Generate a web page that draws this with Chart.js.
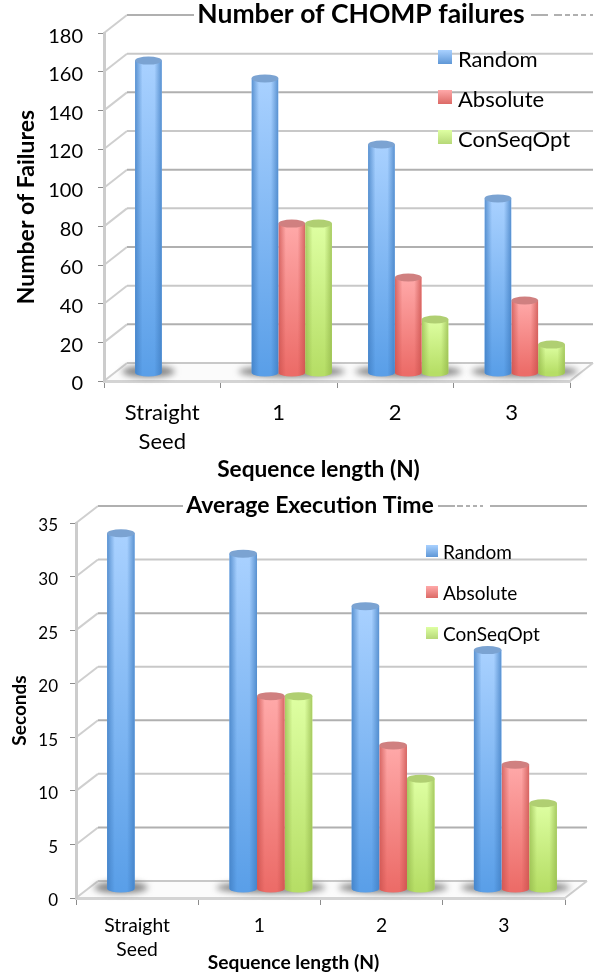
<!DOCTYPE html>
<html>
<head>
<meta charset="utf-8">
<title>CHOMP failures and execution time</title>
<script src="https://cdn.jsdelivr.net/npm/chart.js@4"></script>
<style>
  html, body { margin: 0; padding: 0; background: #fff; }
  canvas { position: absolute; left: 0; }
</style>
</head>
<body>
<canvas id="failChart" width="600" height="487" style="top:0;width:600px;height:487px"></canvas>
<canvas id="timeChart" width="600" height="488" style="top:487px;width:600px;height:488px"></canvas>
<script>
const categories = [['Straight', 'Seed'], '1', '2', '3'];
const seriesNames = ['Random', 'Absolute', 'ConSeqOpt'];

const randomFailures = [161.6, 152.4, 118.2, 90.3];
const absoluteFailures = [null, 77.3, 49.4, 37.5];
const conSeqOptFailures = [null, 77.3, 27.7, 14.7];

const randomSeconds = [33.2, 31.3, 26.4, 22.3];
const absoluteSeconds = [null, 18.0, 13.4, 11.6];
const conSeqOptSeconds = [null, 18.0, 10.3, 8.0];

const FONT = 'Lato, "Open Sans", sans-serif';

// top / bottom colour of the centre of a bar, its edges, and the cap
const shades = [
    { top: '#a9d1ff', bottom: '#5a9fe8', edge: '#3f7cc0', cap: '#7ba3d2', swatchTop: '#a9d1ff', swatchBottom: '#5f97d6' },
    { top: '#ffa9a9', bottom: '#ec6c68', edge: '#c9504c', cap: '#d08080', swatchTop: '#ffa9a9', swatchBottom: '#dc6a66' },
    { top: '#deffa2', bottom: '#b6de66', edge: '#94b84c', cap: '#b0cf72', swatchTop: '#deffa2', swatchBottom: '#b6d878' }
];

function hexA(hex, a) {
    const n = parseInt(hex.slice(1), 16);
    return 'rgba(' + (n >> 16) + ',' + ((n >> 8) & 255) + ',' + (n & 255) + ',' + a + ')';
}

// walls, floor and grid lines behind the bars, legend on top of them
const depthPlugin = {
    id: 'depth',
    beforeDraw(chart, args, o) {
        const ctx = chart.ctx;
        const a = chart.chartArea;
        const y = chart.scales.y;
        ctx.save();
        ctx.fillStyle = '#fff';
        ctx.fillRect(0, 0, chart.width, chart.height);

        // floor
        ctx.beginPath();
        ctx.moveTo(a.left, a.bottom);
        ctx.lineTo(a.left + o.dx, a.bottom - o.dy);
        ctx.lineTo(a.right + o.dx, a.bottom - o.dy);
        ctx.lineTo(a.right, a.bottom);
        ctx.closePath();
        ctx.fillStyle = '#fbfbfb';
        ctx.fill();

        ctx.lineWidth = 2;
        y.ticks.forEach((t, i) => {
            const py = y.getPixelForValue(t.value);
            ctx.beginPath();
            ctx.moveTo(a.left, py);
            ctx.lineTo(a.left + o.dx, py - o.dy);
            ctx.strokeStyle = '#cfcfcf';
            ctx.stroke();
            ctx.beginPath();
            ctx.moveTo(a.left + o.dx, py - o.dy);
            ctx.lineTo(a.right + o.dx, py - o.dy);
            ctx.strokeStyle = i % 2 ? '#b0b0b0' : '#c8c8c8';
            ctx.stroke();
        });

        // right edge of the floor
        ctx.strokeStyle = '#cfcfcf';
        ctx.beginPath();
        ctx.moveTo(a.right, a.bottom);
        ctx.lineTo(a.right + o.dx, a.bottom - o.dy);
        ctx.stroke();

        // gaps in the top line, next to the title
        const topY = a.top - o.dy;
        ctx.fillStyle = '#fff';
        ctx.fillRect(o.titleLeft, topY - 3, o.titleRight - o.titleLeft, 6);
        o.gaps.forEach(g => ctx.fillRect(g[0], topY - 3, g[1], 6));
        ctx.restore();
    },
    beforeDatasetsDraw(chart, args, o) {
        // soft shadow on the floor round each group of bars
        const ctx = chart.ctx;
        const metas = chart.getSortedVisibleDatasetMetas();
        ctx.save();
        ctx.translate(o.shiftX, -o.shiftY);
        ctx.filter = 'blur(3px)';
        ctx.fillStyle = 'rgba(105,105,105,0.8)';
        chart.data.labels.forEach((label, i) => {
            const bars = metas.filter(m => m._dataset.data[i] !== null).map(m => m.data[i]);
            const left = Math.min(...bars.map(b => b.x - b.width / 2));
            const right = Math.max(...bars.map(b => b.x + b.width / 2));
            ctx.beginPath();
            ctx.ellipse((left + right) / 2, bars[0].base - 1, (right - left) / 2 + 13, 6, 0, 0, Math.PI * 2);
            ctx.fill();
        });
        ctx.restore();
    },
    beforeDatasetDraw(chart, args, o) {
        const ctx = chart.ctx;
        const s = shades[args.index];
        const vals = chart.data.datasets[args.index].data;
        ctx.save();
        ctx.translate(o.shiftX, -o.shiftY);
        args.meta.data.forEach((bar, i) => {
            if (vals[i] === null) return;
            const w = bar.width, l = bar.x - w / 2, r = bar.x + w / 2, h = o.capH;
            const body = new Path2D();
            body.moveTo(l, bar.y);
            body.lineTo(l, bar.base);
            body.ellipse(bar.x, bar.base, w / 2, h, 0, Math.PI, 0, true);
            body.lineTo(r, bar.y);
            body.closePath();

            const down = ctx.createLinearGradient(0, bar.y, 0, bar.base);
            down.addColorStop(0, s.top);
            down.addColorStop(1, s.bottom);
            ctx.fillStyle = down;
            ctx.fill(body);

            // cylinder shading: darker at both sides
            ctx.save();
            ctx.clip(body);
            [[l, l + w * 0.28], [r, r - w * 0.28]].forEach(e => {
                const side = ctx.createLinearGradient(e[0], 0, e[1], 0);
                side.addColorStop(0, hexA(s.edge, 0.75));
                side.addColorStop(1, hexA(s.edge, 0));
                ctx.fillStyle = side;
                ctx.fillRect(Math.min(e[0], e[1]), bar.y - h, w * 0.28, bar.base - bar.y + 2 * h);
            });
            ctx.restore();

            ctx.fillStyle = s.cap;
            ctx.beginPath();
            ctx.ellipse(bar.x, bar.y, w / 2, h, 0, 0, Math.PI * 2);
            ctx.fill();
        });
        ctx.restore();
        return false;
    },
    afterDraw(chart, args, o) {
        const ctx = chart.ctx;
        const half = o.swatch / 2;
        ctx.save();
        ctx.font = o.legendSize + 'px ' + FONT;
        ctx.textBaseline = 'middle';
        chart.data.datasets.forEach((d, i) => {
            const rowY = o.legendY[i];
            const g = ctx.createLinearGradient(0, rowY - half, 0, rowY + half);
            g.addColorStop(0, shades[i].swatchTop);
            g.addColorStop(1, shades[i].swatchBottom);
            ctx.fillStyle = g;
            ctx.fillRect(o.legendX, rowY - half, o.swatch, o.swatch);
            ctx.fillStyle = '#000';
            ctx.fillText(d.label, o.legendTextX, rowY + o.legendDrop);
        });
        ctx.restore();
    }
};

function buildChart(id, c) {
    const values = [c.random, c.absolute, c.conSeqOpt];
    new Chart(document.getElementById(id), {
        type: 'bar',
        plugins: [depthPlugin, {
            id: 'titleShift',
            afterLayout(chart) {
                chart.titleBlock.left += c.titleShift;
                chart.titleBlock.right += c.titleShift;
            }
        }],
        data: {
            labels: categories,
            datasets: seriesNames.map((name, i) => ({
                label: name,
                data: values[i],
                backgroundColor: shades[i].bottom,
                clip: false
            }))
        },
        options: {
            responsive: false,
            animation: false,
            devicePixelRatio: 1,
            layout: { padding: { left: 0, right: c.rightPad, top: 0, bottom: 0 } },
            datasets: { bar: { categoryPercentage: c.groupPct, barPercentage: 1 } },
            plugins: {
                legend: { display: false },
                tooltip: { enabled: false },
                title: {
                    display: true,
                    text: c.title,
                    color: '#000',
                    font: { family: FONT, size: c.titleSize, weight: 'bold', lineHeight: 1.1 },
                    padding: c.titlePad
                },
                depth: c.depth
            },
            scales: {
                x: {
                    afterFit(scale) {
                        scale.height = c.xHeight;
                        // the axis title is not centred on the axis in the reference
                        scale.drawTitle = function () {
                            scale.ctx.save();
                            scale.ctx.translate(c.xTitleShift, 0);
                            Chart.Scale.prototype.drawTitle.call(scale);
                            scale.ctx.restore();
                        };
                    },
                    border: { color: '#d4d4d4', width: 3 },
                    grid: { drawOnChartArea: false, color: '#8c8c8c', tickLength: 7, lineWidth: 1 },
                    ticks: {
                        color: '#000', maxRotation: 0, autoSkip: false, padding: c.xTickPad,
                        font: { family: FONT, size: c.xTickSize, lineHeight: c.xTickLine }
                    },
                    title: {
                        display: true, text: 'Sequence length (N)', color: '#000',
                        font: { family: FONT, size: c.xTitleSize, weight: 'bold' },
                        padding: c.xTitlePad
                    }
                },
                y: {
                    min: 0,
                    max: c.max,
                    afterFit(scale) { scale.width = c.yWidth; },
                    border: { color: '#cccccc', width: 3 },
                    grid: { drawOnChartArea: false, color: '#8c8c8c', tickLength: 6, lineWidth: 1 },
                    ticks: {
                        stepSize: c.step, color: '#000', padding: c.yTickPad, labelOffset: 3,
                        font: { family: FONT, size: c.yTickSize }
                    },
                    title: {
                        display: true, text: c.yTitle, color: '#000',
                        font: { family: FONT, size: c.yTitleSize, weight: 'bold' },
                        padding: c.yTitlePad
                    }
                }
            }
        }
    });
}

buildChart('failChart', {
    random: randomFailures, absolute: absoluteFailures, conSeqOpt: conSeqOptFailures,
    title: 'Number of CHOMP failures', titleSize: 26.5, titlePad: { top: 0, bottom: 3.9 }, titleShift: 76,
    yTitle: 'Number of Failures', yTitleSize: 23, yTitlePad: { top: 13, bottom: 0 },
    max: 180, step: 20, groupPct: 0.69, rightPad: 30,
    xHeight: 106, yWidth: 104, xTickPad: 10.5, yTickPad: 15, xTickSize: 22, xTickLine: 1.32, yTickSize: 20,
    xTitleSize: 22.7, xTitlePad: { top: 0, bottom: 3.4 }, xTitleShift: -18.5,
    depth: {
        dx: 23, dy: 18, shiftX: 13, shiftY: 8, capH: 4,
        titleLeft: 194, titleRight: 531, gaps: [[548, 6], [562, 3], [570, 3], [578, 3], [586, 4]],
        legendX: 438, swatch: 14, legendTextX: 458, legendDrop: 3, legendSize: 22, legendY: [57, 97, 137]
    }
});

buildChart('timeChart', {
    random: randomSeconds, absolute: absoluteSeconds, conSeqOpt: conSeqOptSeconds,
    title: 'Average Execution Time', titleSize: 23, titlePad: { top: 5.5, bottom: 5.2 }, titleShift: 27.5,
    yTitle: 'Seconds', yTitleSize: 19, yTitlePad: { top: 8.5, bottom: 0 },
    max: 35, step: 5, groupPct: 0.68, rightPad: 35,
    xHeight: 77, yWidth: 76, xTickPad: 9, yTickPad: 12, xTickSize: 19.3, xTickLine: 1.25, yTickSize: 17,
    xTitleSize: 19.2, xTitlePad: { top: 0, bottom: 0.5 }, xTitleShift: -27,
    depth: {
        dx: 22, dy: 17, shiftX: 11.5, shiftY: 9, capH: 4,
        titleLeft: 183, titleRight: 438, gaps: [[455, 2], [463, 3], [470, 3], [477, 3], [483, 7]],
        legendX: 426, swatch: 12, legendTextX: 443, legendDrop: 1.5, legendSize: 19, legendY: [64, 105, 146]
    }
});
</script>
</body>
</html>
